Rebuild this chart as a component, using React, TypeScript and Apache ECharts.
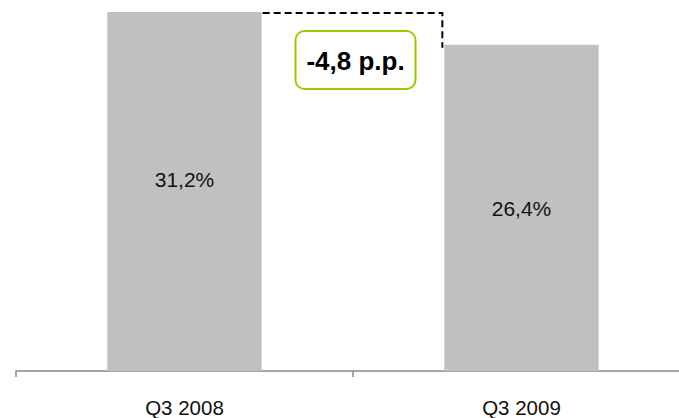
import React, { useEffect, useRef } from "react";
import * as echarts from "echarts";

// Quarter categories and their shares (percent)
const categories = ["Q3 2008", "Q3 2009"];
const shares = [31.2, 26.4];
const changeLabel = "-4,8 p.p.";
// The value axis is truncated: bars rise from this floor value
const axisFloor = -21.3;
// Vertical offset of each value label inside its bar
const labelOffsets = [-12, 1];

const FONT = "'Liberation Sans', Arial, Helvetica, sans-serif";
const BAR_WIDTH_RATIO = 0.458;

export default function App() {
  const ref = useRef<HTMLDivElement>(null);

  useEffect(() => {
    if (!ref.current) return;
    const chart = echarts.init(ref.current, undefined, { renderer: "svg" });
    const maxShare = Math.max(...shares);

    chart.setOption({
      animation: false,
      grid: { left: 16, top: 12, width: 674, height: 361, containLabel: false },
      xAxis: {
        type: "category",
        data: categories,
        axisLine: { onZero: false, lineStyle: { color: "#888888", width: 1.5 } },
        axisTick: { show: true, length: 6, lineStyle: { color: "#888888", width: 1.5 } },
        axisLabel: {
          color: "#111111",
          fontSize: 20.5,
          fontFamily: FONT,
          margin: 26,
        },
      },
      yAxis: {
        type: "value",
        min: axisFloor,
        max: maxShare,
        startValue: axisFloor,
        show: false,
        splitLine: { show: false },
      },
      series: [
        {
          type: "bar",
          barWidth: `${BAR_WIDTH_RATIO * 100}%`,
          itemStyle: { color: "#c0c0c0" },
          data: shares.map((v, i) => ({
            value: v,
            label: {
              show: true,
              position: "inside",
              offset: [0, labelOffsets[i]],
              formatter: () => `${v.toFixed(1).replace(".", ",")}%`,
              color: "#111111",
              fontSize: 21,
              fontFamily: FONT,
            },
          })),
        },
      ],
    });

    // Bracket and change badge, positioned from the bars' own coordinates
    const p0 = chart.convertToPixel({ gridIndex: 0 }, [0, shares[0]]) as number[];
    const p1 = chart.convertToPixel({ gridIndex: 0 }, [1, shares[1]]) as number[];
    const band = p1[0] - p0[0];
    const half = (band * BAR_WIDTH_RATIO) / 2;
    const x0 = p0[0] + half + 1;
    const x1 = p1[0] - half - 2;
    const yTop = p0[1];
    const yEnd = p1[1] + 3;
    const cx = (x0 + x1) / 2 + 3;
    const boxW = 120;
    const boxH = 58;
    const boxTop = yTop + 19;

    chart.setOption({
      graphic: [
        {
          type: "polyline",
          shape: { points: [[x0, yTop + 1], [x1, yTop + 1], [x1, yEnd]] },
          style: { stroke: "#000000", lineWidth: 2, lineDash: [7, 4], fill: null },
          silent: true,
        },
        {
          type: "rect",
          shape: { x: cx - boxW / 2, y: boxTop, width: boxW, height: boxH, r: 9 },
          style: { fill: "#ffffff", stroke: "#99cc00", lineWidth: 2 },
          silent: true,
        },
        {
          type: "text",
          x: cx,
          y: boxTop + boxH / 2 + 1,
          style: {
            text: changeLabel,
            fill: "#000000",
            font: `bold 26px ${FONT}`,
            align: "center",
            verticalAlign: "middle",
          },
          silent: true,
        },
      ],
    });

    return () => chart.dispose();
  }, []);

  return (
    <div style={{ position: "absolute", left: 0, top: 0, width: 679, height: 418, overflow: "hidden" }}>
      <div ref={ref} style={{ width: 720, height: 418 }} />
    </div>
  );
}
